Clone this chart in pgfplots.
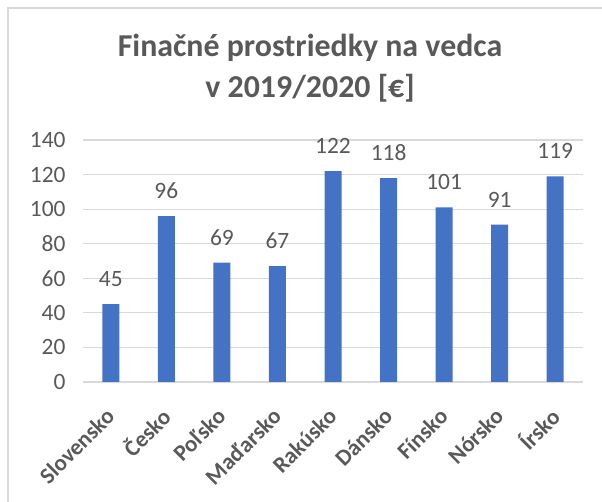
\documentclass[border=0pt]{standalone}
\usepackage{fontspec}
\setmainfont{Carlito}
\usepackage{pgfplots}
\pgfplotsset{compat=1.18}
\definecolor{txt}{HTML}{595959}
\definecolor{barc}{HTML}{4472C4}
\definecolor{gridc}{HTML}{D9D9D9}
\begin{document}
\begin{tikzpicture}[x=1bp,y=1bp]
\useasboundingbox (0,0) rectangle (602,502);
\draw[gridc, line width=1.5bp] (8,0) -- (8,494) -- (602,494);
\node[txt, font=\fontsize{32}{41}\selectfont\bfseries, align=center] at (310,434) {Finačné prostriedky na vedca\\v 2019/2020 [€]};
\begin{axis}[at={(83bp,120bp)}, anchor=south west, scale only axis,
  width=500bp, height=242bp,
  ymin=0, ymax=140, xmin=-0.5, xmax=8.5,
  ytick={0,20,...,140},
  xtick={0,...,8},
  xticklabels={Slovensko,Česko,Poľsko,Maďarsko,Rakúsko,Dánsko,Fínsko,Nórsko,Írsko},
  axis line style={draw=none},
  tick style={draw=none},
  major tick length=0pt,
  ymajorgrids,
  grid style={gridc, line width=1.2bp},
  ybar, bar width=17bp,
  /pgf/number format/assume math mode=true,
  nodes near coords,
  nodes near coords style={txt, font=\fontsize{23.5}{28}\selectfont, anchor=south, yshift=14bp},
  yticklabel style={txt, font=\fontsize{23.5}{28}\selectfont, anchor=east, xshift=-14bp},
  xticklabel style={xshift=2bp, yshift=-28bp, rotate=45, anchor=east, txt, font=\fontsize{23}{28}\selectfont\bfseries},
]
\addplot[fill=barc, draw=none] coordinates {(0,45) (1,96) (2,69) (3,67) (4,122) (5,118) (6,101) (7,91) (8,119)};
\end{axis}
\end{tikzpicture}
\end{document}
